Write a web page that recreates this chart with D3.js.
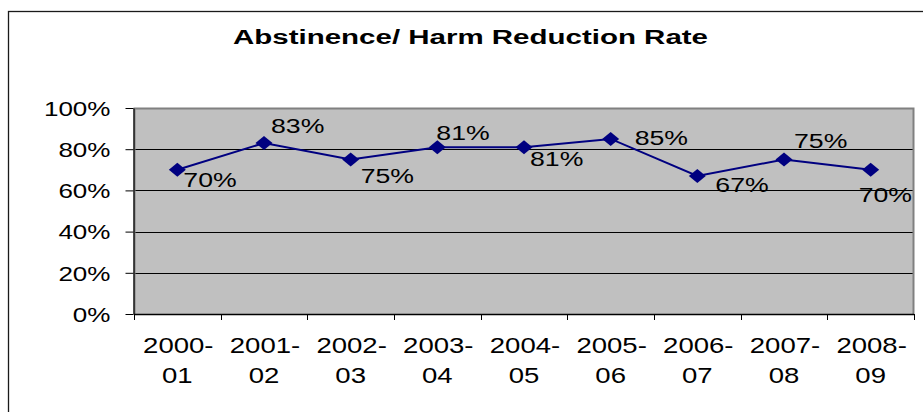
<!DOCTYPE html>
<html>
<head>
<meta charset="utf-8">
<script src="https://cdn.jsdelivr.net/npm/d3@7/dist/d3.min.js"></script>
<style>
  html, body { margin: 0; padding: 0; background: #fff; }
  svg { display: block; }
  text { font-family: "Liberation Sans", Arial, sans-serif; fill: #000; }
</style>
</head>
<body>
<svg id="chart" width="923" height="412"></svg>
<script>
// ---- data ----
const title = "Abstinence/ Harm Reduction Rate";
const categoriesLine1 = ["2000-", "2001-", "2002-", "2003-", "2004-", "2005-", "2006-", "2007-", "2008-"];
const categoriesLine2 = ["01", "02", "03", "04", "05", "06", "07", "08", "09"];
const rates = [0.70, 0.83, 0.75, 0.81, 0.81, 0.85, 0.67, 0.75, 0.70];
const yTicks = [0, 0.2, 0.4, 0.6, 0.8, 1.0];
// label placement (offsets from point, px)
const labelDx = [6, 7, 10, -1, 6, 24, 18, 10, -12];
const labelDy = [17, -10, 23, -7, 19, 6, 16, -12, 32];

const W = 923, H = 412;
const plot = { left: 134, right: 914, top: 108, bottom: 314 };
const svg = d3.select("#chart");
const STRETCH = 1.3;

function stretch(sel, factor) {
  sel.each(function () {
    const l = this.getComputedTextLength();
    d3.select(this).attr("textLength", l * factor).attr("lengthAdjust", "spacingAndGlyphs");
  });
}

// outer chart border (extends beyond the right/bottom edges)
svg.append("rect").attr("x", 8.5).attr("y", 11.5).attr("width", 1000).attr("height", 1000)
  .attr("fill", "none").attr("stroke", "#1a1a1a").attr("stroke-width", 1.3);

// title
const t = svg.append("text").attr("x", 470.5).attr("y", 44).attr("text-anchor", "middle")
  .attr("font-size", 20).attr("font-weight", "bold").text(title);
t.attr("textLength", 475).attr("lengthAdjust", "spacingAndGlyphs");

const x = d3.scaleBand().domain(d3.range(rates.length)).range([plot.left, plot.right]).padding(0);
const y = d3.scaleLinear().domain([0, 1]).range([plot.bottom, plot.top]);

// plot background
svg.append("rect").attr("x", plot.left).attr("y", plot.top)
  .attr("width", plot.right - plot.left).attr("height", plot.bottom - plot.top)
  .attr("fill", "#c0c0c0");

// gridlines
svg.append("g").selectAll("line").data(yTicks.filter(d => d > 0 && d < 1)).join("line")
  .attr("x1", plot.left).attr("x2", plot.right)
  .attr("y1", d => Math.round(y(d)) + 0.5).attr("y2", d => Math.round(y(d)) + 0.5)
  .attr("stroke", "#000").attr("stroke-width", 1);

// plot border (gray)
svg.append("path")
  .attr("d", `M${plot.left + 0.5},${plot.bottom}V${plot.top + 0.5}H${plot.right - 0.5}V${plot.bottom}`)
  .attr("fill", "none").attr("stroke", "#808080").attr("stroke-width", 2);

// y axis
const yAxis = svg.append("g").attr("transform", `translate(${plot.left - 0.5},0)`)
  .call(d3.axisLeft(y).tickValues(yTicks).tickFormat(d3.format(".0%")).tickSize(8).tickSizeOuter(0).tickPadding(15));
yAxis.select(".domain").attr("stroke", "#000").attr("stroke-width", 1.2);
yAxis.selectAll(".tick line").attr("stroke", "#000");
yAxis.selectAll(".tick text").attr("font-size", 20.5).attr("font-family", "Liberation Sans, Arial, sans-serif")
  .attr("fill", "#000").attr("dy", "0.36em");
stretch(yAxis.selectAll(".tick text"), 1.27);

// x axis line and ticks at category boundaries
const xg = svg.append("g");
xg.append("line").attr("x1", plot.left).attr("x2", plot.right)
  .attr("y1", plot.bottom + 0.5).attr("y2", plot.bottom + 0.5)
  .attr("stroke", "#000").attr("stroke-width", 1.5);
const edges = d3.range(rates.length).map(i => x(i)).concat([x(rates.length - 1) + x.bandwidth()]);
xg.selectAll("line.tk").data(edges).join("line").attr("class", "tk")
  .attr("x1", d => Math.round(d) + 0.5).attr("x2", d => Math.round(d) + 0.5)
  .attr("y1", plot.bottom).attr("y2", plot.bottom + 6)
  .attr("stroke", "#000").attr("stroke-width", 1);
const xl1 = xg.selectAll("text.l1").data(categoriesLine1).join("text").attr("class", "l1")
  .attr("x", (d, i) => x(i) + x.bandwidth() / 2 + 1).attr("y", 352.5)
  .attr("text-anchor", "middle").attr("font-size", 21.5).text(d => d);
stretch(xl1, 1.28);
const xl2 = xg.selectAll("text.l2").data(categoriesLine2).join("text").attr("class", "l2")
  .attr("x", (d, i) => x(i) + x.bandwidth() / 2).attr("y", 382.5)
  .attr("text-anchor", "middle").attr("font-size", 21.5).text(d => d);
stretch(xl2, 1.28);

// line
const cx = i => x(i) + x.bandwidth() / 2;
svg.append("path").datum(rates)
  .attr("d", d3.line().x((d, i) => cx(i)).y(d => y(d)))
  .attr("fill", "none").attr("stroke", "#000080").attr("stroke-width", 2);

// diamond markers
svg.append("g").selectAll("path").data(rates).join("path")
  .attr("d", (d, i) => {
    const px = cx(i), py = y(d), a = 8.5, b = 7;
    return `M${px},${py - b}L${px + a},${py}L${px},${py + b}L${px - a},${py}Z`;
  })
  .attr("fill", "#000080").attr("stroke", "none");

// data labels
const dl = svg.append("g").selectAll("text").data(rates).join("text")
  .attr("x", (d, i) => cx(i) + labelDx[i]).attr("y", (d, i) => y(d) + labelDy[i])
  .attr("font-size", 20.5).text(d => d3.format(".0%")(d));
stretch(dl, STRETCH);
</script>
</body>
</html>
